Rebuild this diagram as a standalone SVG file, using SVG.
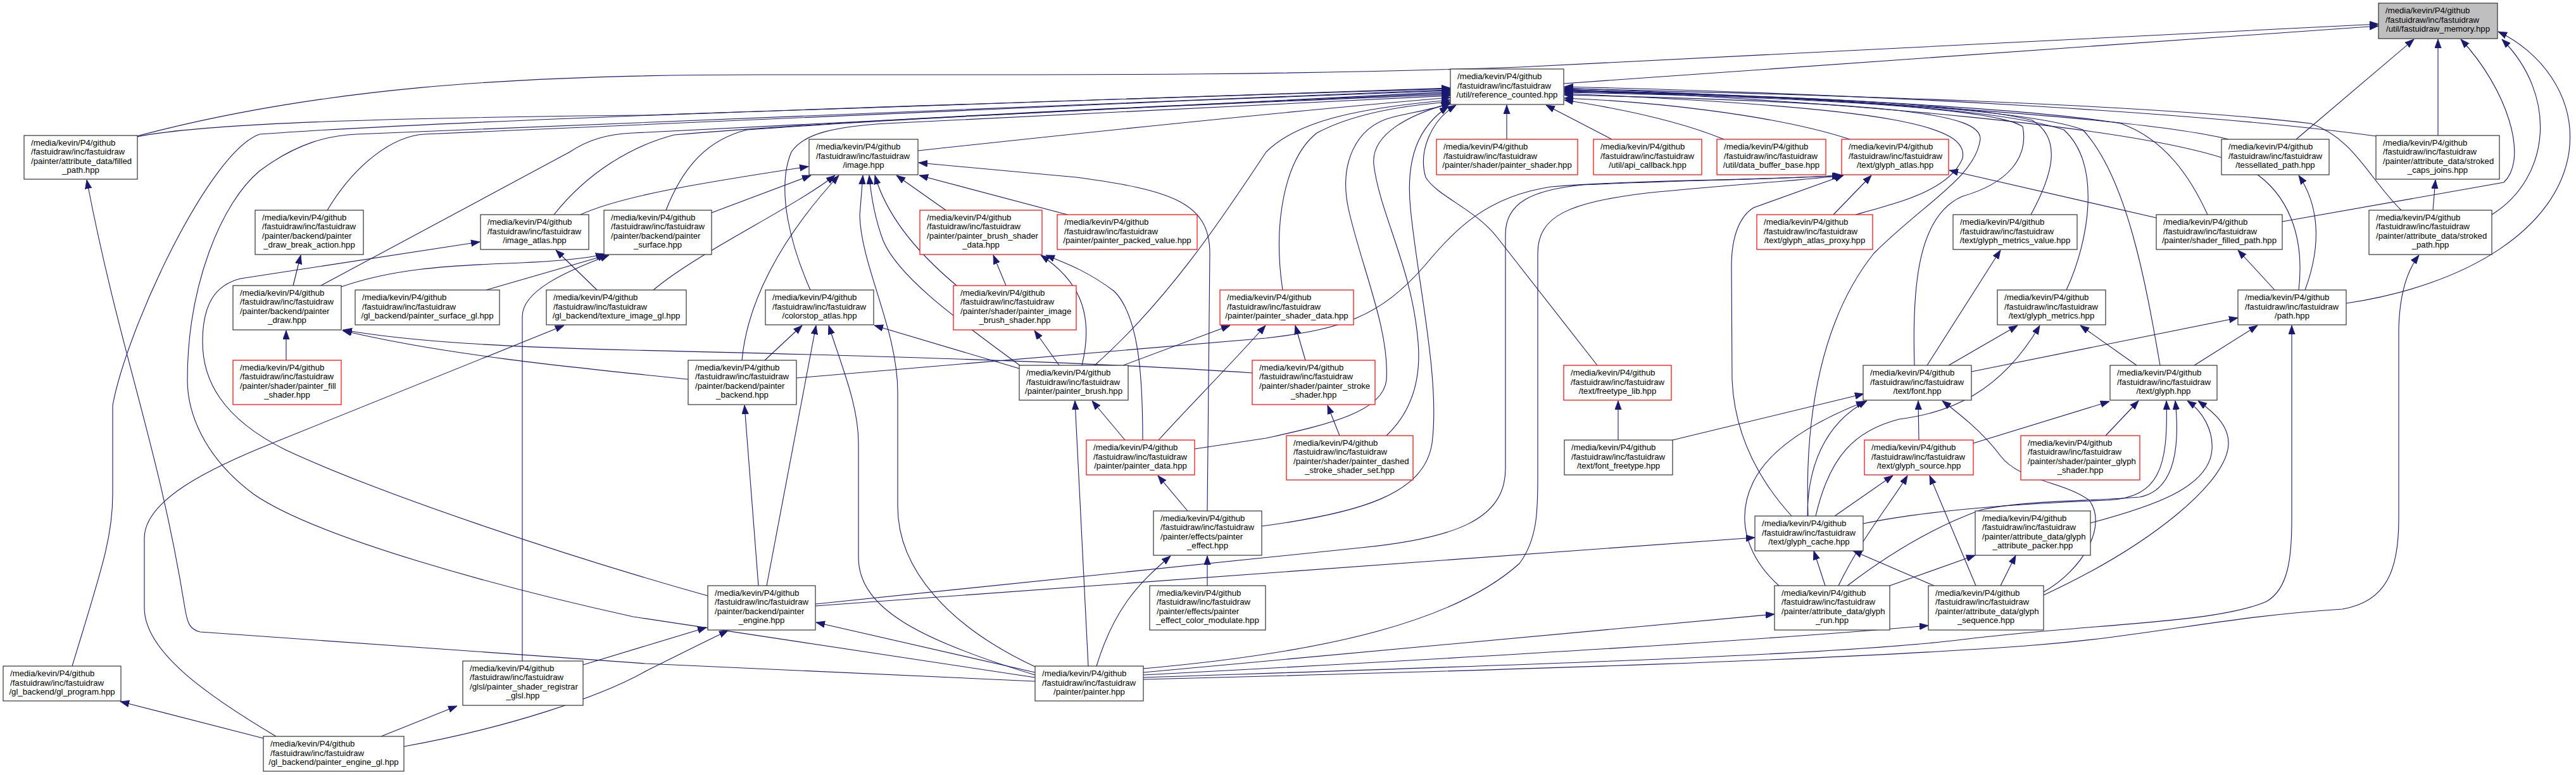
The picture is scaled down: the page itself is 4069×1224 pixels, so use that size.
<svg xmlns="http://www.w3.org/2000/svg" width="4069" height="1224" viewBox="0 0 4069 1224">
<style>
.n rect{fill:#fff;stroke:#333;stroke-width:1.2}
.r rect{stroke:#f00}
.root rect{fill:#bfbfbf;stroke:#333}
text{font-family:"Liberation Sans",Arial,Helvetica,sans-serif;font-size:13.2px;fill:#000}
.c{text-anchor:middle}
.e path{fill:none;stroke:#191970;stroke-width:1.1;marker-end:url(#a)}
</style>
<defs>
<marker id="a" markerWidth="15" markerHeight="12" refX="14" refY="5.5" orient="auto" markerUnits="userSpaceOnUse">
<path d="M0,0.3 L14,5.5 L0,10.7 z" fill="#191970" stroke="#191970" stroke-width="0.8"/>
</marker>
</defs>
<rect x="0" y="0" width="4069" height="1224" fill="#fff"/>
<g class="e" id="edges">
<path d="M216,215 C500,140 800,118 1200,118 C1700,118 2000,120 2400,106 L3757,38"/>
<path d="M2470,132 L3757,41"/>
<path d="M3627,220 L3813,62"/>
<path d="M3851,214 L3851,62"/>
<path d="M3605,350 L3955,288 C3995,250 3960,140 3887,62"/>
<path d="M3936,339 C4030,280 4040,150 3952,62"/>
<path d="M3706,479 C3900,450 4040,360 4058,240 C4070,150 4010,80 3946,50"/>
<path d="M216,216 C320,195 600,186 1020,182 L2291,139"/>
<path d="M114,1052 C160,900 178,850 178,780 L178,640 C200,520 330,240 410,212 C700,190 1500,165 2291,140"/>
<path d="M1635,1070 L1000,974 C800,930 500,850 400,780 C320,720 296,650 296,600 C296,450 350,320 410,270 C470,225 520,214 563,212 C900,195 1600,165 2291,142"/>
<path d="M517,332 C560,260 620,215 670,212 C1000,195 1700,165 2291,143"/>
<path d="M507,451 L900,240 C930,220 960,212 1000,210 C1400,190 1900,165 2291,145"/>
<path d="M875,339 C930,270 1000,230 1065,213 C1400,185 1900,165 2291,147"/>
<path d="M1052,332 C1080,260 1120,220 1180,205 C1500,182 1900,165 2291,149"/>
<path d="M1280,458 C1250,390 1225,300 1250,240 C1270,210 1320,200 1400,195 C1700,180 2000,165 2291,151"/>
<path d="M1450,238 C1800,200 2100,170 2291,154"/>
<path d="M1729,577 C1850,470 1940,330 2000,240 C2050,190 2150,170 2291,158"/>
<path d="M2026,458 C2010,350 2030,250 2080,210 C2140,178 2220,166 2291,161"/>
<path d="M1887,709 L2000,692 C2100,670 2185,650 2190,600 C2195,520 2150,420 2130,330 C2115,260 2140,200 2200,185 C2240,176 2270,170 2291,164"/>
<path d="M1993,831 C2150,810 2250,780 2262,700 C2275,600 2240,450 2228,330 C2220,250 2240,200 2288,168"/>
<path d="M2190,688 C2230,650 2245,600 2240,540 C2230,420 2180,340 2170,260 C2165,210 2230,180 2291,163"/>
<path d="M2380,220 L2380,166"/>
<path d="M2546,220 L2442,166"/>
<path d="M2723,220 C2650,190 2550,170 2471,158"/>
<path d="M2922,220 C2800,180 2600,160 2471,155"/>
<path d="M3753,215 C3500,180 3000,150 2471,137"/>
<path d="M3520,220 C3400,190 3000,160 2471,139"/>
<path d="M3793,332 C3740,280 3720,220 3650,195 C3400,165 2900,150 2471,140"/>
<path d="M3631,458 C3640,380 3620,300 3540,260 C3400,200 2900,160 2471,141"/>
<path d="M3487,339 C3460,280 3420,220 3350,195 C3200,170 2800,150 2471,142"/>
<path d="M3412,577 C3390,450 3360,280 3290,205 C3200,170 2800,150 2471,143"/>
<path d="M3264,458 C3300,380 3320,260 3260,205 C3150,168 2800,150 2471,144"/>
<path d="M3208,339 C3240,280 3260,220 3210,190 C3100,162 2800,150 2471,145"/>
<path d="M3024,577 C3020,450 3030,340 3100,310 C3170,290 3205,250 3195,200 C3150,168 2800,152 2471,146"/>
<path d="M2931,339 C3000,320 3080,300 3100,250 C3110,200 3000,170 2471,148"/>
<path d="M2856,815 C2850,650 2880,500 2960,400 C3040,320 3120,280 3128,220 C3130,180 3000,162 2471,150"/>
<path d="M2523,577 L2365,375 C2330,330 2270,310 2252,280 C2240,240 2260,190 2300,166"/>
<path d="M917,339 C980,310 1100,290 1277,263"/>
<path d="M1124,336 L1281,277"/>
<path d="M1032,458 C1100,400 1250,330 1319,277"/>
<path d="M1172,569 C1180,480 1230,380 1325,277"/>
<path d="M1635,1053 C1500,990 1418,900 1418,800 L1418,620 C1418,520 1360,420 1358,340 L1363,277"/>
<path d="M1612,578 C1520,510 1420,440 1395,380 C1380,340 1375,300 1373,277"/>
<path d="M1511,451 C1450,400 1400,340 1382,277"/>
<path d="M1494,332 L1416,277"/>
<path d="M1686,339 L1452,277"/>
<path d="M1907,807 L1911,400 C1911,320 1850,300 1700,280 L1451,257"/>
<path d="M463,451 L475,403"/>
<path d="M452,569 L452,522"/>
<path d="M539,453 C620,425 700,420 800,416 C880,413 930,408 955,401"/>
<path d="M768,458 L958,403"/>
<path d="M943,458 L878,395"/>
<path d="M825,1044 L825,500 C825,460 890,430 962,403"/>
<path d="M436,1163 C330,1100 228,1030 228,960 L228,850 C228,790 330,740 430,700 L891,514"/>
<path d="M1087,599 C900,580 700,560 541,522"/>
<path d="M1978,589 C1700,570 1300,560 1000,553 C800,548 650,540 542,521"/>
<path d="M1208,569 L1267,514"/>
<path d="M1258,597 L2000,534 C2120,520 2180,500 2250,420 C2300,360 2350,310 2450,295 C2600,283 2800,285 2908,277"/>
<path d="M1198,925 L1176,640"/>
<path d="M1211,925 L1289,514"/>
<path d="M1118,941 C900,880 600,780 450,710 C350,660 320,600 320,540 C320,480 340,450 380,440 L758,382"/>
<path d="M1288,954 C1600,920 1900,890 2150,865 C2300,850 2378,820 2378,740 L2378,370 C2378,320 2420,300 2500,292 C2650,285 2800,283 2910,277"/>
<path d="M1288,957 L2772,849"/>
<path d="M921,1050 L1116,991"/>
<path d="M638,1179 C800,1150 950,1100 1020,1060 C1080,1030 1120,1010 1150,996"/>
<path d="M602,1163 L722,1115"/>
<path d="M416,1166 L190,1108"/>
<path d="M1635,1062 L1289,983"/>
<path d="M1635,1066 C1450,1010 1356,960 1356,880 L1356,700 C1356,640 1330,580 1309,514"/>
<path d="M1635,1076 L1020,1048 L316,998 C300,994 296,985 292,960 C250,700 190,560 137,284"/>
<path d="M1719,1052 L1698,633"/>
<path d="M1732,1052 C1760,960 1800,920 1849,878"/>
<path d="M1806,1056 C2100,1030 2300,980 2400,890 C2430,850 2429,800 2429,750 L2429,400 C2429,340 2480,320 2600,305 C2750,290 2850,285 2911,277"/>
<path d="M1806,1062 L2803,970"/>
<path d="M1806,1066 C2300,1040 2800,1010 3046,988"/>
<path d="M1806,1070 C2400,1050 2900,1035 3100,1010 C3300,985 3500,985 3580,950 C3615,930 3620,880 3620,820 L3620,514"/>
<path d="M1806,1073 C2400,1058 2900,1042 3200,1020 C3400,1005 3500,975 3700,962 C3770,950 3789,900 3789,820 L3789,520 C3790,470 3800,430 3821,403"/>
<path d="M1610,582 L1381,514"/>
<path d="M1709,577 C1730,490 1700,440 1644,403"/>
<path d="M1673,577 L1634,522"/>
<path d="M1774,577 L1943,514"/>
<path d="M1777,695 L1725,633"/>
<path d="M1830,695 C1880,640 1940,580 1999,514"/>
<path d="M1805,695 C1805,600 1800,500 1760,460 C1720,430 1690,418 1652,403"/>
<path d="M1876,807 L1829,751"/>
<path d="M1907,925 L1907,878"/>
<path d="M1589,451 L1569,403"/>
<path d="M2062,569 L2046,514"/>
<path d="M2116,688 L2097,640"/>
<path d="M2896,339 L2956,277"/>
<path d="M3406,344 L3079,269"/>
<path d="M2830,815 C2780,760 2740,690 2736,600 L2735,420 C2735,370 2750,340 2770,328 L2912,277"/>
<path d="M2855,815 C2855,740 2880,670 2949,633"/>
<path d="M2868,815 C2890,720 2930,680 3000,662 C3080,652 3160,620 3222,514"/>
<path d="M2898,815 L2990,751"/>
<path d="M2943,827 C3050,805 3200,795 3330,790 C3410,785 3425,740 3422,633"/>
<path d="M2918,925 C2990,870 3060,830 3130,805 C3200,790 3300,792 3380,785 C3430,775 3445,720 3436,633"/>
<path d="M3302,826 C3400,800 3490,770 3494,710 C3496,680 3480,650 3455,633"/>
<path d="M3228,940 C3400,860 3520,760 3520,700 C3520,670 3495,650 3472,633"/>
<path d="M3326,688 L3378,633"/>
<path d="M3117,700 L3332,634"/>
<path d="M3031,695 L3030,633"/>
<path d="M2810,925 C2760,880 2740,820 2770,760 C2800,700 2880,660 2946,634"/>
<path d="M2883,925 L2865,870"/>
<path d="M2904,925 C2940,850 2990,790 3013,751"/>
<path d="M2985,925 L3120,877"/>
<path d="M3160,925 L3184,877"/>
<path d="M3121,925 L3048,751"/>
<path d="M3055,925 L2927,870"/>
<path d="M3228,935 C3290,900 3330,830 3300,790 C3260,760 3190,760 3160,720 C3130,680 3090,650 3068,633"/>
<path d="M2556,695 L2556,633"/>
<path d="M2642,695 L2944,622"/>
<path d="M3044,577 L3160,395"/>
<path d="M3078,577 L3187,514"/>
<path d="M3114,587 L3535,502"/>
<path d="M3375,577 L3286,514"/>
<path d="M3466,577 L3566,514"/>
<path d="M3593,458 L3535,395"/>
<path d="M3641,458 C3670,380 3660,320 3631,277"/>
<path d="M3843,332 L3847,284"/>
</g>
<g id="n-mem" class="n root"><rect x="3757" y="5" width="188" height="56"/><text><tspan x="3768" y="21.3">/media/kevin/P4/github</tspan><tspan x="3768" y="35.8">/fastuidraw/inc/fastuidraw</tspan></text><text class="c" x="3851" y="50.3">/util/fastuidraw_memory.hpp</text></g>
<g id="n-ref" class="n"><rect x="2291" y="109" width="179" height="56"/><text><tspan x="2302" y="125.3">/media/kevin/P4/github</tspan><tspan x="2302" y="139.8">/fastuidraw/inc/fastuidraw</tspan></text><text class="c" x="2380.5" y="154.3">/util/reference_counted.hpp</text></g>
<g id="n-fp" class="n"><rect x="38" y="214" width="179" height="69"/><text><tspan x="49" y="229.5">/media/kevin/P4/github</tspan><tspan x="49" y="244">/fastuidraw/inc/fastuidraw</tspan><tspan x="49" y="258.5">/painter/attribute_data/filled</tspan></text><text class="c" x="127.5" y="273">_path.hpp</text></g>
<g id="n-img" class="n"><rect x="1278" y="220" width="172" height="56"/><text><tspan x="1289" y="236.3">/media/kevin/P4/github</tspan><tspan x="1289" y="250.8">/fastuidraw/inc/fastuidraw</tspan></text><text class="c" x="1364" y="265.3">/image.hpp</text></g>
<g id="n-pshader" class="n r"><rect x="2269" y="220" width="223" height="56"/><text><tspan x="2280" y="236.3">/media/kevin/P4/github</tspan><tspan x="2280" y="250.8">/fastuidraw/inc/fastuidraw</tspan></text><text class="c" x="2380.5" y="265.3">/painter/shader/painter_shader.hpp</text></g>
<g id="n-apicb" class="n r"><rect x="2517" y="220" width="171" height="56"/><text><tspan x="2528" y="236.3">/media/kevin/P4/github</tspan><tspan x="2528" y="250.8">/fastuidraw/inc/fastuidraw</tspan></text><text class="c" x="2602.5" y="265.3">/util/api_callback.hpp</text></g>
<g id="n-dbb" class="n r"><rect x="2712" y="220" width="172" height="56"/><text><tspan x="2723" y="236.3">/media/kevin/P4/github</tspan><tspan x="2723" y="250.8">/fastuidraw/inc/fastuidraw</tspan></text><text class="c" x="2798" y="265.3">/util/data_buffer_base.hpp</text></g>
<g id="n-ga" class="n r"><rect x="2909" y="220" width="169" height="56"/><text><tspan x="2920" y="236.3">/media/kevin/P4/github</tspan><tspan x="2920" y="250.8">/fastuidraw/inc/fastuidraw</tspan></text><text class="c" x="2993.5" y="265.3">/text/glyph_atlas.hpp</text></g>
<g id="n-tess" class="n"><rect x="3509" y="220" width="170" height="56"/><text><tspan x="3520" y="236.3">/media/kevin/P4/github</tspan><tspan x="3520" y="250.8">/fastuidraw/inc/fastuidraw</tspan></text><text class="c" x="3594" y="265.3">/tessellated_path.hpp</text></g>
<g id="n-scj" class="n"><rect x="3753" y="214" width="195" height="69"/><text><tspan x="3764" y="229.5">/media/kevin/P4/github</tspan><tspan x="3764" y="244">/fastuidraw/inc/fastuidraw</tspan><tspan x="3764" y="258.5">/painter/attribute_data/stroked</tspan></text><text class="c" x="3850.5" y="273">_caps_joins.hpp</text></g>
<g id="n-pdba" class="n"><rect x="403" y="332" width="171" height="70"/><text><tspan x="414" y="347.5">/media/kevin/P4/github</tspan><tspan x="414" y="362">/fastuidraw/inc/fastuidraw</tspan><tspan x="414" y="376.5">/painter/backend/painter</tspan></text><text class="c" x="488.5" y="391">_draw_break_action.hpp</text></g>
<g id="n-iatlas" class="n"><rect x="759" y="339" width="171" height="55"/><text><tspan x="770" y="355.3">/media/kevin/P4/github</tspan><tspan x="770" y="369.8">/fastuidraw/inc/fastuidraw</tspan></text><text class="c" x="844.5" y="384.3">/image_atlas.hpp</text></g>
<g id="n-psurf" class="n"><rect x="954" y="332" width="170" height="70"/><text><tspan x="965" y="347.5">/media/kevin/P4/github</tspan><tspan x="965" y="362">/fastuidraw/inc/fastuidraw</tspan><tspan x="965" y="376.5">/painter/backend/painter</tspan></text><text class="c" x="1039" y="391">_surface.hpp</text></g>
<g id="n-pbsd" class="n r"><rect x="1453" y="332" width="193" height="70"/><text><tspan x="1464" y="347.5">/media/kevin/P4/github</tspan><tspan x="1464" y="362">/fastuidraw/inc/fastuidraw</tspan><tspan x="1464" y="376.5">/painter/painter_brush_shader</tspan></text><text class="c" x="1549.5" y="391">_data.hpp</text></g>
<g id="n-ppv" class="n r"><rect x="1670" y="339" width="221" height="55"/><text><tspan x="1681" y="355.3">/media/kevin/P4/github</tspan><tspan x="1681" y="369.8">/fastuidraw/inc/fastuidraw</tspan></text><text class="c" x="1780.5" y="384.3">/painter/painter_packed_value.hpp</text></g>
<g id="n-gap" class="n r"><rect x="2775" y="339" width="183" height="55"/><text><tspan x="2786" y="355.3">/media/kevin/P4/github</tspan><tspan x="2786" y="369.8">/fastuidraw/inc/fastuidraw</tspan></text><text class="c" x="2866.5" y="384.3">/text/glyph_atlas_proxy.hpp</text></g>
<g id="n-gmv" class="n"><rect x="3085" y="339" width="196" height="55"/><text><tspan x="3096" y="355.3">/media/kevin/P4/github</tspan><tspan x="3096" y="369.8">/fastuidraw/inc/fastuidraw</tspan></text><text class="c" x="3183" y="384.3">/text/glyph_metrics_value.hpp</text></g>
<g id="n-sfp" class="n"><rect x="3406" y="339" width="199" height="55"/><text><tspan x="3417" y="355.3">/media/kevin/P4/github</tspan><tspan x="3417" y="369.8">/fastuidraw/inc/fastuidraw</tspan></text><text class="c" x="3505.5" y="384.3">/painter/shader_filled_path.hpp</text></g>
<g id="n-sp" class="n"><rect x="3742" y="332" width="194" height="70"/><text><tspan x="3753" y="347.5">/media/kevin/P4/github</tspan><tspan x="3753" y="362">/fastuidraw/inc/fastuidraw</tspan><tspan x="3753" y="376.5">/painter/attribute_data/stroked</tspan></text><text class="c" x="3839" y="391">_path.hpp</text></g>
<g id="n-pdraw" class="n"><rect x="368" y="451" width="171" height="70"/><text><tspan x="379" y="466.5">/media/kevin/P4/github</tspan><tspan x="379" y="481">/fastuidraw/inc/fastuidraw</tspan><tspan x="379" y="495.5">/painter/backend/painter</tspan></text><text class="c" x="453.5" y="510">_draw.hpp</text></g>
<g id="n-psgl" class="n"><rect x="561" y="458" width="228" height="55"/><text><tspan x="572" y="474.3">/media/kevin/P4/github</tspan><tspan x="572" y="488.8">/fastuidraw/inc/fastuidraw</tspan></text><text class="c" x="675" y="503.3">/gl_backend/painter_surface_gl.hpp</text></g>
<g id="n-tigl" class="n"><rect x="863" y="458" width="221" height="55"/><text><tspan x="874" y="474.3">/media/kevin/P4/github</tspan><tspan x="874" y="488.8">/fastuidraw/inc/fastuidraw</tspan></text><text class="c" x="973.5" y="503.3">/gl_backend/texture_image_gl.hpp</text></g>
<g id="n-csa" class="n"><rect x="1209" y="458" width="171" height="55"/><text><tspan x="1220" y="474.3">/media/kevin/P4/github</tspan><tspan x="1220" y="488.8">/fastuidraw/inc/fastuidraw</tspan></text><text class="c" x="1294.5" y="503.3">/colorstop_atlas.hpp</text></g>
<g id="n-pibs" class="n r"><rect x="1506" y="451" width="194" height="70"/><text><tspan x="1517" y="466.5">/media/kevin/P4/github</tspan><tspan x="1517" y="481">/fastuidraw/inc/fastuidraw</tspan><tspan x="1517" y="495.5">/painter/shader/painter_image</tspan></text><text class="c" x="1603" y="510">_brush_shader.hpp</text></g>
<g id="n-psd" class="n r"><rect x="1927" y="458" width="211" height="55"/><text><tspan x="1938" y="474.3">/media/kevin/P4/github</tspan><tspan x="1938" y="488.8">/fastuidraw/inc/fastuidraw</tspan></text><text class="c" x="2032.5" y="503.3">/painter/painter_shader_data.hpp</text></g>
<g id="n-gm" class="n"><rect x="3155" y="458" width="171" height="55"/><text><tspan x="3166" y="474.3">/media/kevin/P4/github</tspan><tspan x="3166" y="488.8">/fastuidraw/inc/fastuidraw</tspan></text><text class="c" x="3240.5" y="503.3">/text/glyph_metrics.hpp</text></g>
<g id="n-path" class="n"><rect x="3535" y="458" width="171" height="55"/><text><tspan x="3546" y="474.3">/media/kevin/P4/github</tspan><tspan x="3546" y="488.8">/fastuidraw/inc/fastuidraw</tspan></text><text class="c" x="3620.5" y="503.3">/path.hpp</text></g>
<g id="n-pfs" class="n r"><rect x="368" y="569" width="171" height="70"/><text><tspan x="379" y="584.5">/media/kevin/P4/github</tspan><tspan x="379" y="599">/fastuidraw/inc/fastuidraw</tspan><tspan x="379" y="613.5">/painter/shader/painter_fill</tspan></text><text class="c" x="453.5" y="628">_shader.hpp</text></g>
<g id="n-pback" class="n"><rect x="1087" y="569" width="171" height="70"/><text><tspan x="1098" y="584.5">/media/kevin/P4/github</tspan><tspan x="1098" y="599">/fastuidraw/inc/fastuidraw</tspan><tspan x="1098" y="613.5">/painter/backend/painter</tspan></text><text class="c" x="1172.5" y="628">_backend.hpp</text></g>
<g id="n-pss" class="n r"><rect x="1978" y="569" width="194" height="70"/><text><tspan x="1989" y="584.5">/media/kevin/P4/github</tspan><tspan x="1989" y="599">/fastuidraw/inc/fastuidraw</tspan><tspan x="1989" y="613.5">/painter/shader/painter_stroke</tspan></text><text class="c" x="2075" y="628">_shader.hpp</text></g>
<g id="n-pbrush" class="n"><rect x="1610" y="577" width="172" height="55"/><text><tspan x="1621" y="593.3">/media/kevin/P4/github</tspan><tspan x="1621" y="607.8">/fastuidraw/inc/fastuidraw</tspan></text><text class="c" x="1696" y="622.3">/painter/painter_brush.hpp</text></g>
<g id="n-ftl" class="n r"><rect x="2470" y="577" width="170" height="55"/><text><tspan x="2481" y="593.3">/media/kevin/P4/github</tspan><tspan x="2481" y="607.8">/fastuidraw/inc/fastuidraw</tspan></text><text class="c" x="2555" y="622.3">/text/freetype_lib.hpp</text></g>
<g id="n-font" class="n"><rect x="2943" y="577" width="171" height="55"/><text><tspan x="2954" y="593.3">/media/kevin/P4/github</tspan><tspan x="2954" y="607.8">/fastuidraw/inc/fastuidraw</tspan></text><text class="c" x="3028.5" y="622.3">/text/font.hpp</text></g>
<g id="n-glyph" class="n"><rect x="3333" y="577" width="169" height="55"/><text><tspan x="3344" y="593.3">/media/kevin/P4/github</tspan><tspan x="3344" y="607.8">/fastuidraw/inc/fastuidraw</tspan></text><text class="c" x="3417.5" y="622.3">/text/glyph.hpp</text></g>
<g id="n-pdata" class="n r"><rect x="1716" y="695" width="171" height="55"/><text><tspan x="1727" y="711.3">/media/kevin/P4/github</tspan><tspan x="1727" y="725.8">/fastuidraw/inc/fastuidraw</tspan></text><text class="c" x="1801.5" y="740.3">/painter/painter_data.hpp</text></g>
<g id="n-pdss" class="n r"><rect x="2032" y="688" width="200" height="70"/><text><tspan x="2043" y="703.5">/media/kevin/P4/github</tspan><tspan x="2043" y="718">/fastuidraw/inc/fastuidraw</tspan><tspan x="2043" y="732.5">/painter/shader/painter_dashed</tspan></text><text class="c" x="2132" y="747">_stroke_shader_set.hpp</text></g>
<g id="n-ff" class="n"><rect x="2471" y="695" width="171" height="55"/><text><tspan x="2482" y="711.3">/media/kevin/P4/github</tspan><tspan x="2482" y="725.8">/fastuidraw/inc/fastuidraw</tspan></text><text class="c" x="2556.5" y="740.3">/text/font_freetype.hpp</text></g>
<g id="n-gsrc" class="n r"><rect x="2945" y="695" width="172" height="55"/><text><tspan x="2956" y="711.3">/media/kevin/P4/github</tspan><tspan x="2956" y="725.8">/fastuidraw/inc/fastuidraw</tspan></text><text class="c" x="3031" y="740.3">/text/glyph_source.hpp</text></g>
<g id="n-pgs" class="n r"><rect x="3192" y="688" width="188" height="70"/><text><tspan x="3203" y="703.5">/media/kevin/P4/github</tspan><tspan x="3203" y="718">/fastuidraw/inc/fastuidraw</tspan><tspan x="3203" y="732.5">/painter/shader/painter_glyph</tspan></text><text class="c" x="3286" y="747">_shader.hpp</text></g>
<g id="n-peff" class="n"><rect x="1822" y="807" width="171" height="70"/><text><tspan x="1833" y="822.5">/media/kevin/P4/github</tspan><tspan x="1833" y="837">/fastuidraw/inc/fastuidraw</tspan><tspan x="1833" y="851.5">/painter/effects/painter</tspan></text><text class="c" x="1907.5" y="866">_effect.hpp</text></g>
<g id="n-gcache" class="n"><rect x="2772" y="815" width="171" height="55"/><text><tspan x="2783" y="831.3">/media/kevin/P4/github</tspan><tspan x="2783" y="845.8">/fastuidraw/inc/fastuidraw</tspan></text><text class="c" x="2857.5" y="860.3">/text/glyph_cache.hpp</text></g>
<g id="n-gpk" class="n"><rect x="3120" y="807" width="182" height="70"/><text><tspan x="3131" y="822.5">/media/kevin/P4/github</tspan><tspan x="3131" y="837">/fastuidraw/inc/fastuidraw</tspan><tspan x="3131" y="851.5">/painter/attribute_data/glyph</tspan></text><text class="c" x="3211" y="866">_attribute_packer.hpp</text></g>
<g id="n-peng" class="n"><rect x="1118" y="925" width="170" height="70"/><text><tspan x="1129" y="940.5">/media/kevin/P4/github</tspan><tspan x="1129" y="955">/fastuidraw/inc/fastuidraw</tspan><tspan x="1129" y="969.5">/painter/backend/painter</tspan></text><text class="c" x="1203" y="984">_engine.hpp</text></g>
<g id="n-pecm" class="n"><rect x="1816" y="925" width="183" height="70"/><text><tspan x="1827" y="940.5">/media/kevin/P4/github</tspan><tspan x="1827" y="955">/fastuidraw/inc/fastuidraw</tspan><tspan x="1827" y="969.5">/painter/effects/painter</tspan></text><text class="c" x="1907.5" y="984">_effect_color_modulate.hpp</text></g>
<g id="n-grun" class="n"><rect x="2803" y="925" width="182" height="70"/><text><tspan x="2814" y="940.5">/media/kevin/P4/github</tspan><tspan x="2814" y="955">/fastuidraw/inc/fastuidraw</tspan><tspan x="2814" y="969.5">/painter/attribute_data/glyph</tspan></text><text class="c" x="2894" y="984">_run.hpp</text></g>
<g id="n-gseq" class="n"><rect x="3046" y="925" width="182" height="70"/><text><tspan x="3057" y="940.5">/media/kevin/P4/github</tspan><tspan x="3057" y="955">/fastuidraw/inc/fastuidraw</tspan><tspan x="3057" y="969.5">/painter/attribute_data/glyph</tspan></text><text class="c" x="3137" y="984">_sequence.hpp</text></g>
<g id="n-glprog" class="n"><rect x="5" y="1052" width="186" height="55"/><text><tspan x="16" y="1068.3">/media/kevin/P4/github</tspan><tspan x="16" y="1082.8">/fastuidraw/inc/fastuidraw</tspan></text><text class="c" x="98" y="1097.3">/gl_backend/gl_program.hpp</text></g>
<g id="n-painter" class="n"><rect x="1635" y="1052" width="171" height="55"/><text><tspan x="1646" y="1068.3">/media/kevin/P4/github</tspan><tspan x="1646" y="1082.8">/fastuidraw/inc/fastuidraw</tspan></text><text class="c" x="1720.5" y="1097.3">/painter/painter.hpp</text></g>
<g id="n-reg" class="n"><rect x="731" y="1044" width="190" height="70"/><text><tspan x="742" y="1059.5">/media/kevin/P4/github</tspan><tspan x="742" y="1074">/fastuidraw/inc/fastuidraw</tspan><tspan x="742" y="1088.5">/glsl/painter_shader_registrar</tspan></text><text class="c" x="826" y="1103">_glsl.hpp</text></g>
<g id="n-pegl" class="n"><rect x="416" y="1163" width="222" height="55"/><text><tspan x="427" y="1179.3">/media/kevin/P4/github</tspan><tspan x="427" y="1193.8">/fastuidraw/inc/fastuidraw</tspan></text><text class="c" x="527" y="1208.3">/gl_backend/painter_engine_gl.hpp</text></g>
</svg>
